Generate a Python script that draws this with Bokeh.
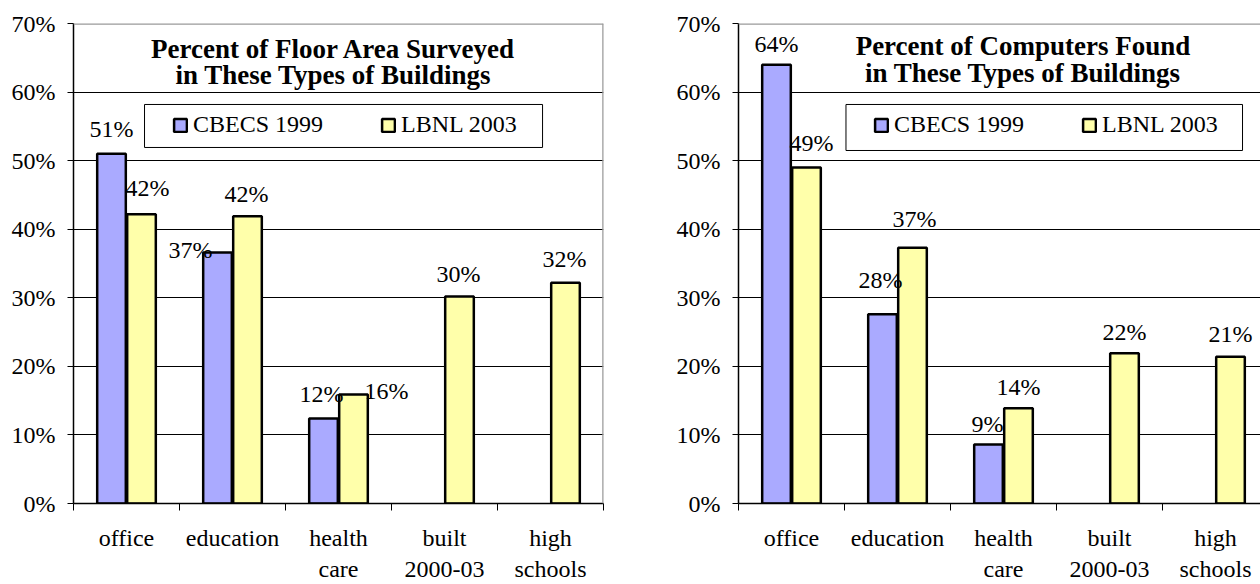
from bokeh.plotting import figure
from bokeh.models import (ColumnDataSource, FixedTicker, Span, BoxAnnotation,
                          Legend, LegendItem, Label)
from bokeh.layouts import row
from bokeh.transform import dodge
from bokeh.embed import file_html
from bokeh.resources import INLINE
from bokeh.core.properties import value

# ---------------- data ----------------
categories = ["office", "education", "health care", "built 2000-03", "high schools"]
category_labels = ["office", "education", "health\ncare", "built\n2000-03", "high\nschools"]
series_names = ["CBECS 1999", "LBNL 2003"]

floor_cbecs = [51.0, 36.6, 12.4, None, None]
floor_lbnl = [42.2, 41.9, 15.9, 30.2, 32.2]

computers_cbecs = [64.0, 27.6, 8.6, None, None]
computers_lbnl = [49.0, 37.3, 13.9, 21.9, 21.4]

y_ticks = [0, 10, 20, 30, 40, 50, 60, 70]

floor_title = ["Percent of Floor Area Surveyed", "in These Types of Buildings"]
computers_title = ["Percent of Computers Found", "in These Types of Buildings"]

# ---------------- style ----------------
FONT = "Liberation Serif"
CB_COLOR = "#AAAAFF"
LB_COLOR = "#FFFFAA"
BAR_W = 0.27
DODGE = 0.1415
CAT_PX = 106.0

# label offsets in screen px (dx, dy) -- purely placement styling
floor_cb_off = [(0, -25), (-27, -3), (-2, -24)]
floor_lb_off = [(6, -26), (-1, -22), (33, -3), (-1, -22), (-1, -24)]
comp_cb_off = [(0, -21), (-2, -34), (-1, -21)]
comp_lb_off = [(5, -25), (2, -29), (0, -21), (0, -21), (0, -23)]


def make_chart(cbecs, lbnl, title, cb_off, lb_off, width, border_left, border_right,
               x_end, title_x, title_y, box, legend_loc, right_line):
    p = figure(width=width, height=584, x_range=(0, x_end), y_range=(0, 70),
               output_backend="svg", toolbar_location=None,
               min_border_left=border_left, min_border_right=border_right,
               min_border_top=23, min_border_bottom=81)
    p.outline_line_color = None
    p.background_fill_color = "white"
    p.border_fill_color = "white"

    n = len(categories)
    xc = [i + 0.5 for i in range(n)]

    # axes
    xa = p.xaxis[0]
    xa.ticker = FixedTicker(ticks=xc, minor_ticks=list(range(n + 1)))
    xa.major_label_overrides = {x: lab for x, lab in zip(xc, category_labels)}
    xa.major_tick_out = 0
    xa.major_tick_in = 0
    xa.minor_tick_out = 7
    xa.minor_tick_in = 0
    xa.minor_tick_line_color = "black"
    xa.minor_tick_line_width = 1
    xa.axis_line_color = "black"
    xa.axis_line_width = 1.5
    xa.major_label_text_font = FONT
    xa.major_label_text_font_size = "24px"
    xa.major_label_text_color = "black"
    xa.major_label_standoff = 14

    ya = p.yaxis[0]
    ya.ticker = FixedTicker(ticks=y_ticks)
    ya.major_label_overrides = {t: f"{t}%" for t in y_ticks}
    ya.major_tick_out = 6
    ya.major_tick_in = 0
    ya.minor_tick_out = 0
    ya.minor_tick_in = 0
    ya.major_tick_line_color = "black"
    ya.axis_line_color = "black"
    ya.axis_line_width = 1.5
    ya.major_label_text_font = FONT
    ya.major_label_text_font_size = "24px"
    ya.major_label_text_color = "black"
    ya.major_label_standoff = 12

    p.xgrid.grid_line_color = None
    p.ygrid.ticker = FixedTicker(ticks=[t for t in y_ticks if 0 < t < 70])
    p.ygrid.grid_line_color = "black"
    p.ygrid.grid_line_width = 1

    p.add_layout(Span(location=70, dimension="width", line_color="#9a9a9a", line_width=2.5))
    if right_line:
        p.add_layout(Span(location=n, dimension="height", line_color="#9a9a9a", line_width=2.5))

    nan = float("nan")
    src = ColumnDataSource(dict(
        x=xc,
        cb=[nan if v is None else v for v in cbecs],
        lb=[nan if v is None else v for v in lbnl],
    ))
    r_cb = p.vbar(x=dodge("x", -DODGE), top="cb", width=BAR_W, source=src,
                  fill_color=CB_COLOR, line_color="black", line_width=2.5)
    r_lb = p.vbar(x=dodge("x", DODGE), top="lb", width=BAR_W, source=src,
                  fill_color=LB_COLOR, line_color="black", line_width=2.5)

    # value labels
    lx, ly, lt, dx, dy = [], [], [], [], []
    for vals, offs, sgn in ((cbecs, cb_off, -1), (lbnl, lb_off, 1)):
        for i, v in enumerate(vals):
            if v is None:
                continue
            lx.append(xc[i] + sgn * DODGE)
            ly.append(v)
            lt.append(f"{round(v)}%")
            dx.append(offs[i][0])
            dy.append(offs[i][1])
    lsrc = ColumnDataSource(dict(x=lx, y=ly, text=lt, dx=dx, dy=dy))
    p.text(x="x", y="y", text="text", x_offset="dx", y_offset="dy", source=lsrc,
           text_align="center", text_baseline="middle",
           text_font=value(FONT), text_font_size="24px", text_color="black")

    # title
    for line, ty in zip(title, title_y):
        p.add_layout(Label(x=title_x, y=ty, text=line, text_align="center",
                           text_baseline="middle", text_font=FONT,
                           text_font_style="bold", text_font_size="27px",
                           text_color="black"))

    # legend
    p.add_layout(BoxAnnotation(left=box[0], right=box[1], top=box[2], bottom=box[3],
                               fill_color="white", fill_alpha=1.0,
                               line_color="black", line_width=1, line_alpha=1.0))
    legend = Legend(items=[LegendItem(label=series_names[0], renderers=[r_cb]),
                           LegendItem(label=series_names[1], renderers=[r_lb])],
                    orientation="horizontal", location=legend_loc,
                    border_line_color=None, background_fill_alpha=0,
                    label_text_font=FONT, label_text_font_size="24px",
                    label_text_color="black",
                    glyph_width=16, glyph_height=16, label_standoff=5,
                    spacing=57, padding=0, margin=0)
    p.add_layout(legend)
    return p


p1 = make_chart(floor_cbecs, floor_lbnl, floor_title, floor_cb_off, floor_lb_off,
                width=673, border_left=73, border_right=70, x_end=5,
                title_x=2.453, title_y=[66.34, 62.55],
                box=(0.670, 4.425, 58.19, 51.92), legend_loc=(99, 365),
                right_line=True)
p2 = make_chart(computers_cbecs, computers_lbnl, computers_title, comp_cb_off, comp_lb_off,
                width=587, border_left=65, border_right=0, x_end=522 / CAT_PX,
                title_x=2.684, title_y=[66.78, 62.78],
                box=(1.014, 4.755, 58.19, 51.48), legend_loc=(135, 365),
                right_line=False)

layout = row(p1, p2)
open("out.html", "w").write(file_html(layout, INLINE))
